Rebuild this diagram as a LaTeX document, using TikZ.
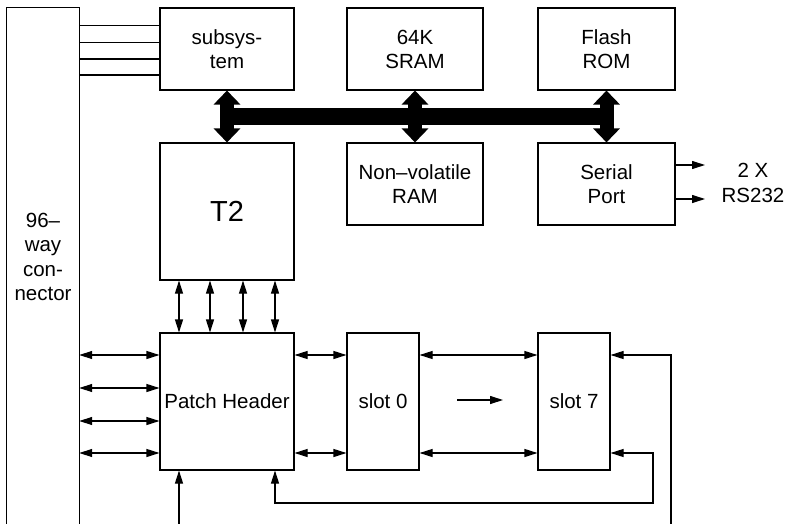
\documentclass[tikz,border=0pt]{standalone}
\usepackage{fontspec}
\setmainfont{Liberation Sans}
\usetikzlibrary{arrows.meta,calc}
\begin{document}
\begin{tikzpicture}[x=1pt,y=-1pt,
  box/.style={draw,line width=1.1pt,inner sep=0pt,align=center,
    font=\fontsize{20.5}{24}\selectfont},
  lbl/.style={inner sep=0pt,align=center,font=\fontsize{20.5}{24}\selectfont},
  ln/.style={line width=1.1pt},
  arr/.style={line width=1.1pt,{Triangle[length=13pt,width=8pt]}-{Triangle[length=13pt,width=8pt]}},
  sarr/.style={line width=1.1pt,-{Triangle[length=13pt,width=8pt]}},
  busarr/.style={line width=14pt,{Triangle[length=14pt,width=26pt]}-{Triangle[length=14pt,width=26pt]}}]
\useasboundingbox (0,0) rectangle (786,524);
% connector (open at bottom)
\node[inner sep=0pt,minimum width=72pt,minimum height=516pt] (conn) at (43,266) {};
\draw[ln] (conn.south west) -- (conn.north west) -- (conn.north east) -- (conn.south east);
\node[lbl,font=\fontsize{20.5}{24.5}\selectfont] (conntext) at (43,257) {96--\\way\\con-\\nector};
% boxes
\node[box,minimum width=134pt,minimum height=82pt] (sub) at (227,49) {subsys-\\tem};
\node[box,minimum width=136pt,minimum height=82pt] (sram) at (415,49) {64K\\SRAM};
\node[box,minimum width=137pt,minimum height=82pt] (flash) at (606.5,49) {Flash\\ROM};
\node[box,minimum width=136pt,minimum height=82pt] (nvram) at (415,184) {Non--volatile\\RAM};
\node[box,minimum width=137pt,minimum height=82pt] (serial) at (606.5,184) {Serial\\Port};
\node[box,minimum width=134pt,minimum height=137pt,font=\fontsize{29}{32}\selectfont] (t2) at (227,211.5) {T2};
\node[box,minimum width=134pt,minimum height=137pt] (patch) at (227,401.5) {Patch Header};
\node[box,minimum width=72pt,minimum height=137pt] (slot0) at (383,401.5) {slot 0};
\node[box,minimum width=72pt,minimum height=137pt] (slot7) at (574,401.5) {slot 7};
\node[lbl,font=\fontsize{20.5}{25}\selectfont] (rs) at (753,183) {2 X\\RS232};
% connector to subsystem
\foreach \y in {25.5,42.3,59,75}
  \draw[ln] (conn.east |- 0,\y) -- (sub.west |- 0,\y);
% bus
\coordinate (busL) at (220,116.5);
\coordinate (busR) at (614,116.5);
\draw[line width=17pt] (busL) -- (busR);
\draw[busarr] (sub.south) -- (t2.north);
\draw[busarr] (sram.south) -- (nvram.north);
\draw[busarr] (flash.south) -- (serial.north);
% serial outputs
\coordinate (o1) at (705,165);
\coordinate (o2) at (705,199);
\draw[sarr] (serial.east |- o1) -- (o1);
\draw[sarr] (serial.east |- o2) -- (o2);
% T2 to patch header
\foreach \x in {179,210,243,275}
  \draw[arr] (t2.south -| \x,0) -- (patch.north -| \x,0);
% connector to patch header
\foreach \y in {355,388,421,453}
  \draw[arr] (conn.east |- 0,\y) -- (patch.west |- 0,\y);
% patch to slots
\foreach \y in {355,453} {
  \draw[arr] (patch.east |- 0,\y) -- (slot0.west |- 0,\y);
  \draw[arr] (slot0.east |- 0,\y) -- (slot7.west |- 0,\y);
}
\coordinate (m1) at (457,400);
\coordinate (m2) at (503,400);
\draw[sarr] (m1) -- (m2);
% loops
\coordinate (r1) at (671,524);
\draw[sarr] (r1) |- (slot7.east |- 0,355);
\coordinate (lb) at (275,503);
\coordinate (rb) at (653,503);
\draw[arr] (patch.south -| lb) -- (lb) -- (rb) |- (slot7.east |- 0,453);
\coordinate (b1) at (179,524);
\draw[sarr] (b1) -- (patch.south -| b1);
\end{tikzpicture}
\end{document}
